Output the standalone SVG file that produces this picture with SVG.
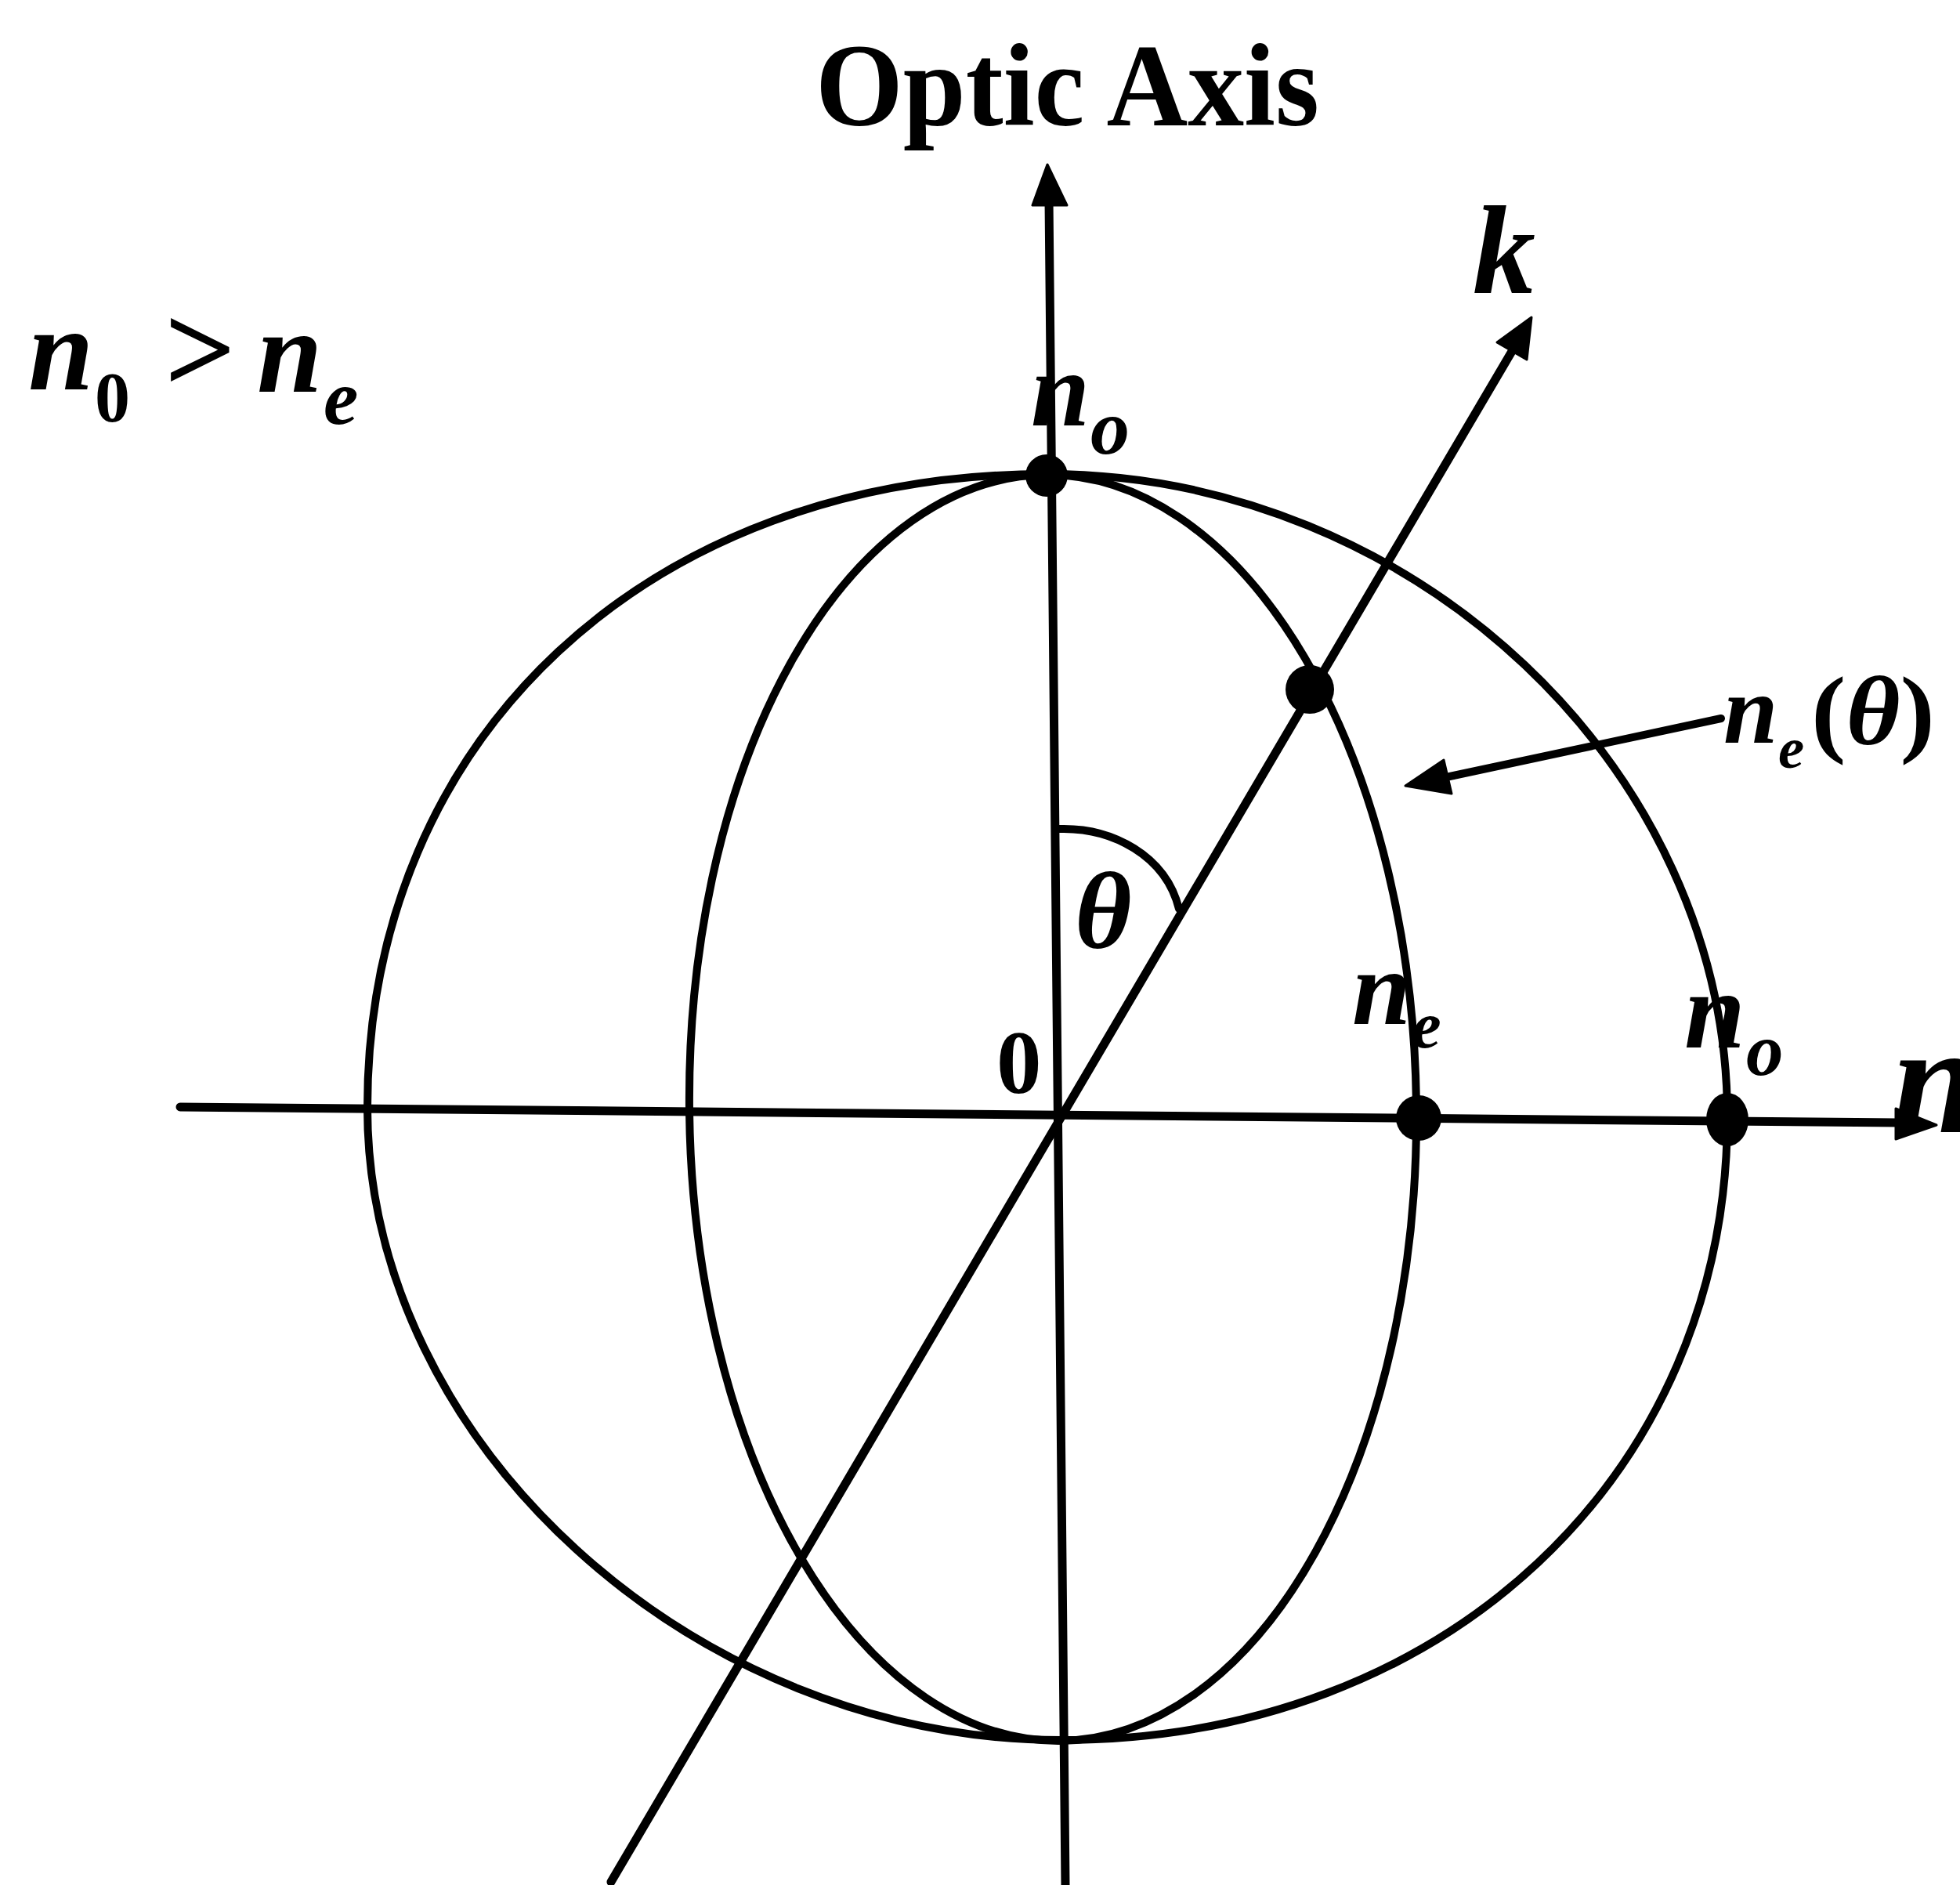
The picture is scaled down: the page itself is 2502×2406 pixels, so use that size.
<svg xmlns="http://www.w3.org/2000/svg" width="2502" height="2406" viewBox="0 0 2502 2406">
<style>
.ln{fill:none;stroke:#000;stroke-width:10;stroke-linecap:round;stroke-linejoin:round}
.ax{fill:none;stroke:#000;stroke-width:11;stroke-linecap:round}
.hd{fill:#000;stroke:#000;stroke-width:3;stroke-linejoin:round}
.dot{fill:#000}
.m{font-family:"Liberation Serif","Times New Roman",serif;font-style:italic;font-weight:bold;fill:#000}
.r{font-family:"Liberation Serif","Times New Roman",serif;font-weight:bold;fill:#000}
</style>
<rect width="2502" height="2406" fill="#fff"/>
<g id="connectors">
  <g id="optic-axis">
    <line class="ax" x1="1360" y1="2406" x2="1339" y2="255"/>
    <polygon class="hd" points="1337,210 1318,262 1362,262"/>
  </g>
  <g id="n-axis">
    <line class="ax" x1="230" y1="1413" x2="2425" y2="1433"/>
    <polygon class="hd" points="2472,1436 2420,1415 2420,1454"/>
  </g>
  <g id="k-axis">
    <line class="ax" x1="780" y1="2402" x2="1932" y2="445"/>
    <polygon class="hd" points="1955,405 1911,437 1949,459"/>
  </g>
  <g id="pointer">
    <line class="ln" x1="2197" y1="917" x2="1846" y2="992"/>
    <polygon class="hd" points="1794,1003 1843,970 1853,1013"/>
  </g>
  <path id="theta-arc" class="ln" d="M1352,1058 C1420,1056 1488,1092 1505,1160"/>
</g>
<g id="index-circle">
  <path class="ln" d="M1336,605 C1805.3,605 2205,982.2 2205,1425 C2205,1882.7 1843.8,2221 1355,2221 C885.4,2221 469,1841.7 469,1414 C469,940.7 828.8,605 1336,605 Z"/>
</g>
<g id="index-ellipse">
  <ellipse class="ln" cx="1344" cy="1414" rx="464" ry="808" transform="rotate(-0.7 1344 1414)"/>
</g>
<g id="points">
  <circle id="dot-top" class="dot" cx="1336" cy="607" r="27"/>
  <circle id="dot-k" class="dot" cx="1672" cy="880" r="31"/>
  <circle id="dot-ne" class="dot" cx="1811" cy="1427" r="29"/>
  <ellipse id="dot-no" class="dot" cx="2205" cy="1429" rx="27" ry="34"/>
</g>
<g id="labels">
  <text id="title" class="r" x="1041" y="160" font-size="150" textLength="643" lengthAdjust="spacingAndGlyphs">Optic Axis</text>
  <g id="relation">
    <text class="m" x="36" y="497" font-size="150">n</text>
    <text class="r" x="121" y="538" font-size="90">0</text>
    <text class="r" x="210" y="500" font-size="160">&gt;</text>
    <text class="m" x="328" y="500" font-size="150">n</text>
    <text class="m" x="413" y="541" font-size="100">e</text>
  </g>
  <g id="label-no-top">
    <text class="m" x="1316" y="543" font-size="135">n</text>
    <text class="m" x="1392" y="579" font-size="100">o</text>
  </g>
  <text id="label-k" class="m" x="1880" y="374" font-size="160">k</text>
  <g id="label-ne-theta">
    <text class="m" x="2200" y="948" font-size="125">n</text>
    <text class="m" x="2270" y="980" font-size="75">e</text>
    <text class="r" x="2312" y="950" font-size="125" font-weight="normal" textLength="158" lengthAdjust="spacingAndGlyphs">(<tspan font-style="italic">θ</tspan>)</text>
  </g>
  <text id="label-theta" class="m" x="1372" y="1210" font-size="140" font-weight="normal">θ</text>
  <text id="label-origin" class="r" x="1272" y="1395" font-size="115" font-weight="normal">0</text>
  <g id="label-ne">
    <text class="m" x="1726" y="1307" font-size="135">n</text>
    <text class="m" x="1802" y="1337" font-size="85">e</text>
  </g>
  <g id="label-no">
    <text class="m" x="2150" y="1337" font-size="140">n</text>
    <text class="m" x="2229" y="1372" font-size="95">o</text>
  </g>
  <text id="label-n" class="m" x="2415" y="1445" font-size="200">n</text>
</g>
</svg>
